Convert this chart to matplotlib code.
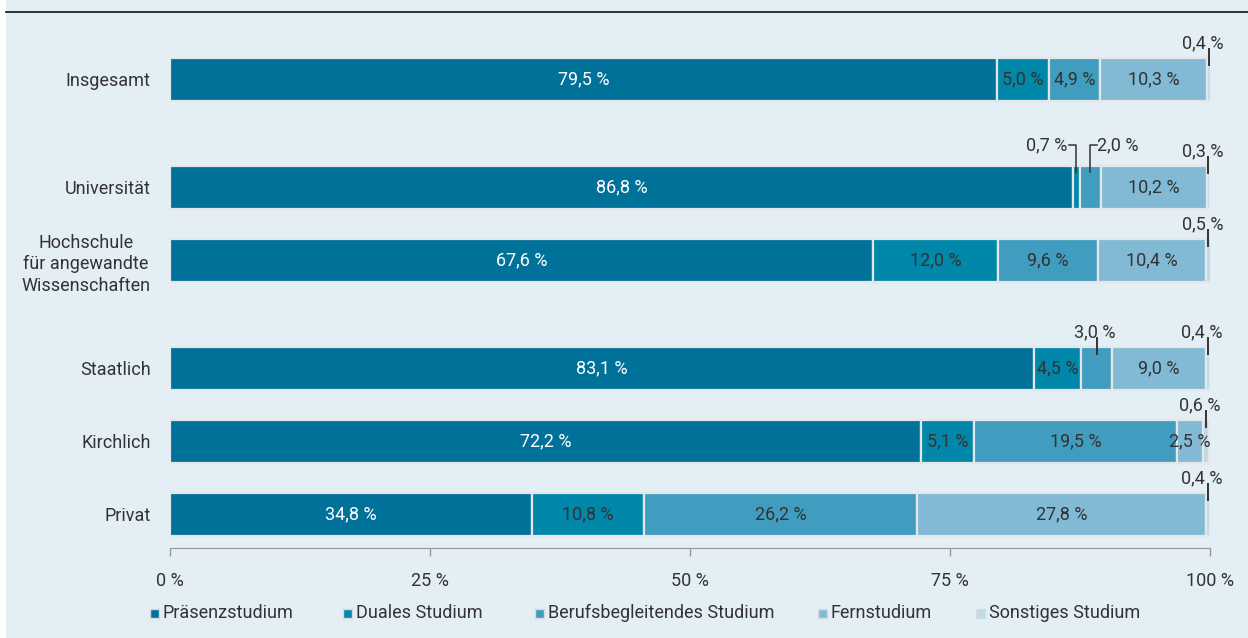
import matplotlib
matplotlib.use("Agg")
import matplotlib.pyplot as plt
from matplotlib.lines import Line2D
from matplotlib.patches import Rectangle

plt.rcParams['font.family'] = ['Roboto', 'DejaVu Sans']

categories = ["Insgesamt", "Universität", "Hochschule\nfür angewandte\nWissenschaften",
              "Staatlich", "Kirchlich", "Privat"]
series_names = ["Präsenzstudium", "Duales Studium", "Berufsbegleitendes Studium",
                "Fernstudium", "Sonstiges Studium"]
praesenz = [79.5, 86.8, 67.6, 83.1, 72.2, 34.8]
duales = [5.0, 0.7, 12.0, 4.5, 5.1, 10.8]
berufsbegl = [4.9, 2.0, 9.6, 3.0, 19.5, 26.2]
fern = [10.3, 10.2, 10.4, 9.0, 2.5, 27.8]
sonstiges = [0.4, 0.3, 0.5, 0.4, 0.6, 0.4]
xticks = [0, 25, 50, 75, 100]
xticklabels = ["0 %", "25 %", "50 %", "75 %", "100 %"]

colors = ["#00729a", "#0087aa", "#419dc0", "#82bad5", "#bcdbea"]
bg = "#e3eef5"
txt = "#333333"
FS = 13

positions = [0, 1.479, 2.479, 3.959, 4.959, 5.959]

W, H = 1248, 638
fig = plt.figure(figsize=(W / 100, H / 100), dpi=100)
fig.patch.set_facecolor("white")
fig.patches.append(Rectangle((6 / W, 0), 1 - 6 / W, 1, transform=fig.transFigure,
                             facecolor=bg, edgecolor="none", zorder=-10))
fig.lines.append(Line2D([6 / W, 1], [1 - 12 / H, 1 - 12 / H], transform=fig.transFigure,
                        color="#222222", lw=1.3))

ax = fig.add_axes([170 / W, (H - 548) / H, 1040 / W, 518 / H])
ax.set_facecolor("none")

series = [praesenz, duales, berufsbegl, fern, sonstiges]
bar_h = 0.59
lefts = [0.0] * len(categories)
for si, (vals, col) in enumerate(zip(series, colors)):
    ax.barh(positions, vals, left=lefts, height=bar_h, color=col,
            edgecolor="#e4e6e8", linewidth=1.6, zorder=2)
    for i, v in enumerate(vals):
        cx = lefts[i] + v / 2
        lab = f"{v:.1f} %".replace(".", ",")
        y = positions[i]
        top = y - bar_h / 2
        if si == 4:
            ax.plot([cx, cx], [top - 0.12, top + 0.1], color=txt, lw=1.4, zorder=4)
            ax.text(cx - 0.55, top - 0.08, lab, ha="center", va="bottom",
                    fontsize=FS, color=txt, zorder=5)
        elif v < 3.5 and si != 3:
            if si == 1 and v < 1.5:
                ax.plot([cx - 0.7, cx, cx], [top - 0.28, top - 0.28, top + 0.08], color=txt, lw=1.1, zorder=4)
                ax.text(cx - 0.9, top - 0.28, lab, ha="right", va="center", fontsize=FS, color=txt)
            elif i == 1:
                ax.plot([cx + 0.6, cx, cx], [top - 0.28, top - 0.28, top + 0.08], color=txt, lw=1.1, zorder=4)
                ax.text(cx + 0.6, top - 0.28, lab, ha="left", va="center", fontsize=FS, color=txt)
            else:
                ax.plot([cx, cx], [top - 0.12, top + 0.1], color=txt, lw=1.4, zorder=4)
                ax.text(cx - 0.2, top - 0.08, lab, ha="center", va="bottom", fontsize=FS, color=txt)
        else:
            ax.text(cx, y, lab, ha="center", va="center", fontsize=FS,
                    color="white" if si == 0 else txt, zorder=5)
        lefts[i] += v

ax.set_xlim(0, 100)
ax.set_ylim(6.418, -0.678)
ax.set_yticks(positions)
ax.set_yticklabels(categories, fontsize=FS, color=txt, ha="right",
                   multialignment="center", linespacing=1.25)
ax.tick_params(axis="y", length=0, pad=14)
ax.set_xticks(xticks)
ax.set_xticklabels(xticklabels, fontsize=FS, color=txt)
ax.tick_params(axis="x", length=6, width=1, color="#999999", pad=11)
for s in ["top", "right", "left"]:
    ax.spines[s].set_visible(False)
ax.spines["bottom"].set_color("#999999")

# legend, placed manually
leg_x = [150, 343, 535, 818, 976]
leg_y = 1 - 613 / H
for xpx, c, name in zip(leg_x, colors, series_names):
    fig.patches.append(Rectangle(((xpx) / W, leg_y - 4.5 / H), 9 / W, 9 / H,
                                 transform=fig.transFigure, facecolor=c,
                                 edgecolor="#d6dadd", linewidth=1.0))
    fig.text((xpx + 13) / W, leg_y, name, ha="left", va="center", fontsize=FS, color=txt)

fig.savefig("out.png", dpi=100, facecolor=fig.get_facecolor())
